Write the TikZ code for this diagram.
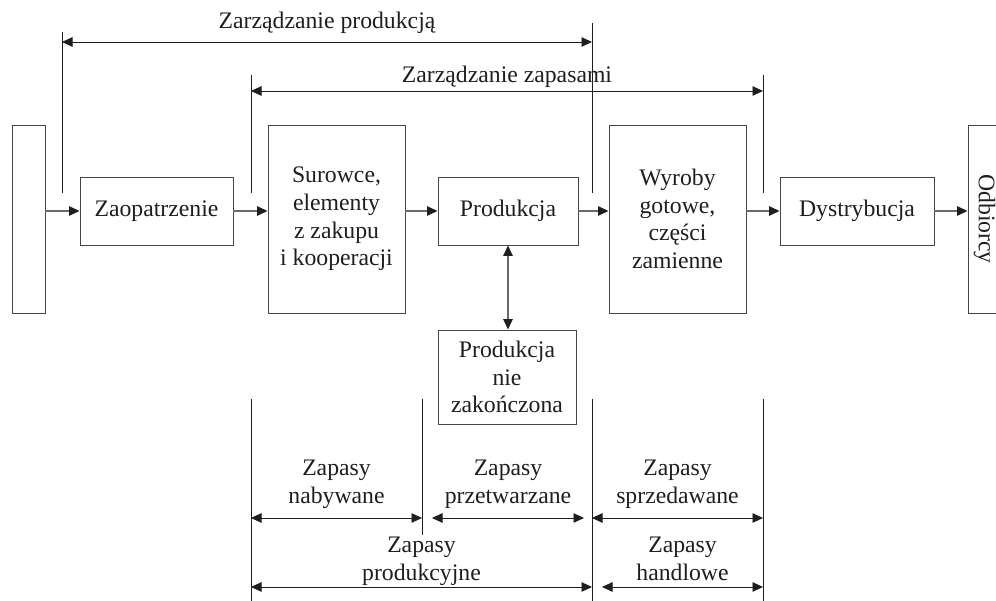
\documentclass[tikz,border=0pt]{standalone}
\usepackage{fontspec}
\setmainfont{Liberation Serif}
\usepackage{xcolor}
\definecolor{lnblack}{RGB}{30,30,30}
\definecolor{boxgray}{RGB}{70,70,70}
\definecolor{flowgray}{RGB}{105,105,105}
\usepackage{tikz}
\usetikzlibrary{arrows.meta, positioning, calc}

\begin{document}
\begin{tikzpicture}[
    every node/.style={font=\fontsize{13.5}{15.8}\selectfont, text=lnblack},
    box/.style={draw=boxgray, line width=0.55pt, align=center, inner sep=2pt},
    smallbox/.style={box, minimum width=#1, minimum height=1.36cm},
    tallbox/.style={box, minimum width=#1, minimum height=3.76cm},
    flow/.style={-{Triangle[length=2.1mm,width=1.9mm,color=lnblack]}, flowgray, line width=0.6pt},
    dflow/.style={{Triangle[length=2.1mm,width=1.9mm,color=lnblack]}-{Triangle[length=2.1mm,width=1.9mm,color=lnblack]}, flowgray, line width=0.6pt},
    span/.style={{Triangle[length=2.1mm,width=1.9mm]}-{Triangle[length=2.1mm,width=1.9mm]}, lnblack, line width=0.5pt},
    guide/.style={lnblack, line width=0.5pt},
    lbl/.style={align=center, inner sep=0pt}
  ]
  \useasboundingbox (0,0) rectangle (19.92,12.02);
  \clip (0,0) rectangle (19.92,12.02);

  % --- Main flow: boxes ---
  \node[tallbox=0.66cm] (src) at (0.57,7.64) {};
  \node[smallbox=3.06cm] (zaop) at (3.13,7.80) {Zaopatrzenie};
  \node[tallbox=2.74cm] (sur) at (6.73,7.64) {Surowce,\\elementy\\z zakupu\\i kooperacji};
  \node[smallbox=2.80cm] (prod) at (10.16,7.80) {Produkcja};
  \node[tallbox=2.74cm] (wyr) at (13.55,7.64) {Wyroby\\gotowe,\\części\\zamienne};
  \node[smallbox=3.08cm] (dys) at (17.14,7.80) {Dystrybucja};
  \node[tallbox=0.66cm] (odb) at (19.69,7.64) {};
  \node[lbl, rotate=-90] (odbtxt) at (odb.center) {Odbiorcy};
  \node[box, minimum width=2.76cm, minimum height=1.88cm] (pnz) at (10.14,4.48) {Produkcja\\nie\\zakończona};

  % --- Main flow: arrows ---
  \draw[flow] (src.east |- zaop.west) -- (zaop.west);
  \draw[flow] (zaop.east) -- (sur.west |- zaop.east);
  \draw[flow] (sur.east |- prod.west) -- (prod.west);
  \draw[flow] (prod.east) -- (wyr.west |- prod.east);
  \draw[flow] (wyr.east |- dys.west) -- (dys.west);
  \draw[flow] (dys.east) -- (odb.west |- dys.east);
  \draw[dflow] (prod.south) -- (prod.south |- pnz.north);

  % --- Management ranges (top) ---
  \draw[guide] (1.24,8.16) -- (1.24,11.38);
  \draw[guide] (5.02,8.16) -- (5.02,10.52);
  \draw[guide] (11.84,8.16) -- (11.84,11.56);
  \draw[guide] (15.26,8.16) -- (15.26,10.52);
  \coordinate (zpA) at (1.24,11.18);
  \coordinate (zpB) at (11.84,11.18);
  \coordinate (zzA) at (5.02,10.20);
  \coordinate (zzB) at (15.26,10.20);
  \draw[span] (zpA) -- node[lbl, anchor=base, yshift=0.26cm] (zplbl) {Zarządzanie produkcją} (zpB);
  \draw[span] (zzA) -- node[lbl, anchor=base, yshift=0.16cm] (zzlbl) {Zarządzanie zapasami} (zzB);

  % --- Stock ranges (bottom) ---
  \draw[guide] (5.02,4.04) -- (5.02,-0.1);
  \draw[guide] (8.44,4.04) -- (8.44,1.32);
  \draw[guide] (11.84,4.04) -- (11.84,-0.1);
  \draw[guide] (15.26,4.04) -- (15.26,-0.1);
  \coordinate (nbA) at (5.02,1.66);
  \coordinate (nbB) at (8.44,1.66);
  \coordinate (ptA) at (8.64,1.66);
  \coordinate (ptB) at (11.68,1.66);
  \coordinate (spA) at (11.84,1.66);
  \coordinate (spB) at (15.26,1.66);
  \coordinate (prA) at (5.02,0.28);
  \coordinate (prB) at (11.84,0.28);
  \coordinate (hdA) at (12.04,0.28);
  \coordinate (hdB) at (15.26,0.28);
  \draw[span] (nbA) -- node[lbl, above=0.12cm] (nblbl) {Zapasy\\nabywane\strut} (nbB);
  \draw[span] (ptA) -- node[lbl, above=0.12cm] (ptlbl) {Zapasy\\przetwarzane\strut} (ptB);
  \draw[span] (spA) -- node[lbl, above=0.12cm] (splbl) {Zapasy\\sprzedawane\strut} (spB);
  \draw[span] (prA) -- node[lbl, above=-0.05cm] (prlbl) {Zapasy\\produkcyjne\strut} (prB);
  \draw[span] (hdA) -- node[lbl, above=-0.05cm] (hdlbl) {Zapasy\\handlowe\strut} (hdB);
\end{tikzpicture}
\end{document}
